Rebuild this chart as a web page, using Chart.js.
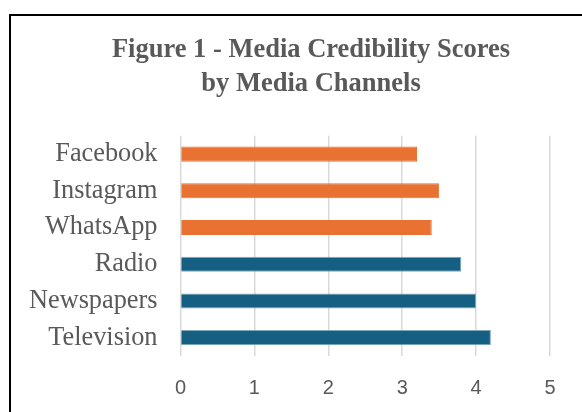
<!DOCTYPE html>
<html>
<head>
<meta charset="utf-8">
<script src="https://cdn.jsdelivr.net/npm/chart.js@4"></script>
<style>
  html, body { margin: 0; padding: 0; background: #fff; overflow: hidden; }
  #wrap { position: relative; width: 582px; height: 412px; }
  #frame { position: absolute; left: 9px; top: 14px; width: 620px; height: 460px; border: 2px solid #000; box-sizing: border-box; }
  canvas { position: absolute; left: 0; top: 0; }
</style>
</head>
<body>
<div id="wrap">
  <div id="frame"></div>
  <canvas id="chart" width="582" height="412"></canvas>
</div>
<script>
// channels, top to bottom
const channels = ['Facebook', 'Instagram', 'WhatsApp', 'Radio', 'Newspapers', 'Television'];
const scores = [3.2, 3.5, 3.4, 3.8, 4.0, 4.2];
const channelType = ['social', 'social', 'social', 'classic', 'classic', 'classic'];
const xTicks = [0, 1, 2, 3, 4, 5];

const orange = '#E97132';
const blue = '#156082';
const textGray = '#595959';

const barColors = channelType.map(t => t === 'social' ? orange : blue);
const barBorders = channelType.map(t => t === 'social' ? orange : '#7fa6ba');

// title is centred over the framed area, not over the whole canvas
const titleShift = {
    id: 'titleShift',
    afterLayout(chart) {
        const tb = chart.titleBlock;
        if (!tb) return;
        tb.left = 40;
        tb.right = 582;
        tb.width = tb.right - tb.left;
    }
};

new Chart(document.getElementById('chart'), {
    type: 'bar',
    data: {
        labels: channels,
        datasets: [{
            data: scores,
            backgroundColor: barColors,
            borderColor: barBorders,
            borderWidth: 1,
            barPercentage: 0.41,
            categoryPercentage: 1
        }]
    },
    options: {
        indexAxis: 'y',
        responsive: false,
        animation: false,
        layout: {
            padding: { top: 0, right: 32, bottom: -8, left: 0 }
        },
        plugins: {
            legend: { display: false },
            tooltip: { enabled: false },
            title: {
                display: true,
                text: ['Figure 1 - Media Credibility Scores', 'by Media Channels'],
                color: textGray,
                font: { family: '"Liberation Serif", "Times New Roman", serif', size: 26.5, weight: 'bold', lineHeight: 1.25 },
                padding: { top: 34, bottom: 35.5 }
            }
        },
        scales: {
            x: {
                min: 0,
                max: 5,
                afterBuildTicks: function(scale) {
                    scale.ticks = xTicks.map(v => ({ value: v }));
                },
                grid: { color: '#d9d9d9', lineWidth: 1.5, drawTicks: false },
                border: { display: false },
                ticks: {
                    color: textGray,
                    padding: 20,
                    font: { family: '"Liberation Sans", Arial, sans-serif', size: 20 }
                }
            },
            y: {
                grid: { display: false, drawTicks: false },
                border: { display: false },
                afterFit: function(scale) {
                    scale.width = 180.5;
                },
                ticks: {
                    autoSkip: false,
                    color: textGray,
                    padding: 23,
                    font: { family: '"Liberation Serif", "Times New Roman", serif', size: 26.3 }
                }
            }
        }
    },
    plugins: [titleShift]
});
</script>
</body>
</html>
